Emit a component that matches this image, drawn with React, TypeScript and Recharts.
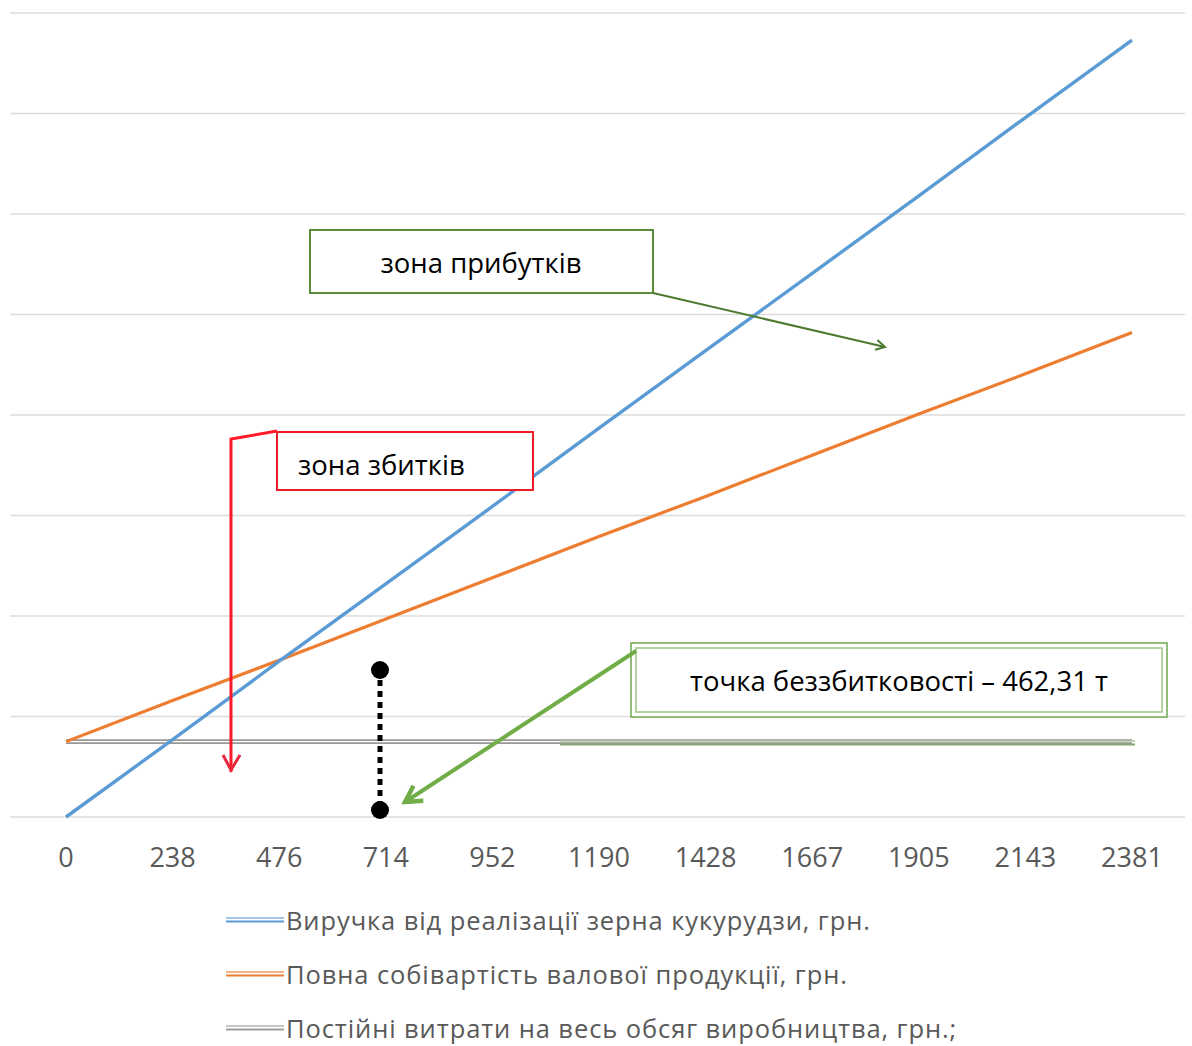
import React from 'react';
import { LineChart, Line, XAxis, YAxis, CartesianGrid, Legend } from 'recharts';

const categories = ['0', '238', '476', '714', '952', '1190', '1428', '1667', '1905', '2143', '2381'];
const revenue = [0, 0.77, 1.55, 2.32, 3.09, 3.87, 4.64, 5.41, 6.18, 6.96, 7.73];
const totalCost = [0.75, 1.16, 1.56, 1.97, 2.38, 2.79, 3.19, 3.6, 4.01, 4.41, 4.82];
const fixedCost = [0.75, 0.75, 0.75, 0.75, 0.75, 0.75, 0.75, 0.75, 0.75, 0.75, 0.75];
const yTicks = [0, 1, 2, 3, 4, 5, 6, 7, 8];

const seriesNames = [
  'Виручка від реалізації зерна кукурудзи, грн.',
  'Повна собівартість валової продукції, грн.',
  'Постійні витрати на весь обсяг виробництва, грн.;',
];
const seriesColors = ['#5b9bd5', '#ed7d31', '#a09d9a'];

const data = categories.map((c, i) => ({
  x: c,
  revenue: revenue[i],
  totalCost: totalCost[i],
  fixedCost: fixedCost[i],
}));

const FONT = '"Open Sans", "Noto Sans", sans-serif';

const renderLegend = () => (
  <div style={{ paddingLeft: 226, fontFamily: FONT }}>
    {seriesNames.map((n, i) => (
      <div key={n} style={{ height: 54, display: 'flex', alignItems: 'center' }}>
        <svg width={60} height={10} style={{ display: 'block' }}>
          <line x1={0} x2={58} y1={3} y2={3} stroke={seriesColors[i]} strokeWidth={1.5} opacity={0.75} />
          <line x1={0} x2={58} y1={6.5} y2={6.5} stroke={seriesColors[i]} strokeWidth={1.8} />
        </svg>
        <span style={{ fontSize: 25.5, lineHeight: '28px', letterSpacing: 0.9, color: '#595959', whiteSpace: 'nowrap' }}>{n}</span>
      </div>
    ))}
  </div>
);

export default function App() {
  return (
    <div style={{ position: 'absolute', left: 0, top: 0, width: 1192, height: 1046, background: '#fff' }}>
      <LineChart
        width={1192}
        height={1046}
        data={data}
        margin={{ top: 13, right: 7, bottom: 0, left: 10 }}
      >
        <CartesianGrid vertical={false} stroke="#dcdcdc" strokeWidth={1.6} />
        <XAxis
          dataKey="x"
          height={76}
          padding={{ left: 56, right: 53 }}
          axisLine={false}
          tickLine={false}
          tickSize={0}
          tickMargin={31}
          interval={0}
          tick={{ fill: '#595959', fontSize: 27, fontFamily: FONT }}
        />
        <YAxis hide domain={[0, 8]} ticks={yTicks} type="number" />
        <Legend
          verticalAlign="bottom"
          content={renderLegend}
          wrapperStyle={{ left: 0, bottom: 0, width: 1192, height: 153 }}
        />
        <Line dataKey="fixedCost" name={seriesNames[2]} stroke="#9a9794" strokeWidth={4.6} dot={false} isAnimationActive={false} />
        <Line dataKey="fixedCost" name="fixed-inner" legendType="none" stroke="#ffffff" strokeWidth={1.4} dot={false} isAnimationActive={false} />
        <Line dataKey="totalCost" name={seriesNames[1]} stroke={seriesColors[1]} strokeWidth={3.2} dot={false} isAnimationActive={false} />
        <Line dataKey="revenue" name={seriesNames[0]} stroke={seriesColors[0]} strokeWidth={3.4} dot={false} isAnimationActive={false} />
      </LineChart>
      <svg
        width={1192}
        height={1046}
        style={{ position: 'absolute', left: 0, top: 0, pointerEvents: 'none' }}
      >
        <defs>
          <marker id="openDark" markerWidth="12" markerHeight="12" refX="10" refY="6" orient="auto" markerUnits="userSpaceOnUse" viewBox="0 0 12 12">
            <path d="M1,1 L10,6 L1,11" fill="none" stroke="#4f7a32" strokeWidth={2} />
          </marker>
          <marker id="greenHead" markerWidth="24" markerHeight="24" refX="20" refY="12" orient="auto" markerUnits="userSpaceOnUse" viewBox="0 0 24 24">
            <path d="M4,3 L20,12 L4,21" fill="none" stroke="#70ad47" strokeWidth={4.5} />
          </marker>
        </defs>

        {/* green double line over fixed cost line */}
        <line x1={560} x2={1135} y1={741} y2={741} stroke="#a9c99a" strokeWidth={1.6} />
        <line x1={560} x2={1135} y1={744.5} y2={744.5} stroke="#86a873" strokeWidth={1.8} />

        {/* profit zone box */}
        <rect x={310} y={230} width={343} height={63} fill="#fff" stroke="#5b8c3a" strokeWidth={2} />
        <text x={481} y={262} textAnchor="middle" dominantBaseline="central" fontFamily={FONT} fontSize={27.5} fill="#000">
          зона прибутків
        </text>
        <line x1={653} y1={293} x2={885} y2={347} stroke="#4f7a32" strokeWidth={2} markerEnd="url(#openDark)" />

        {/* loss zone box */}
        <rect x={277} y={432} width={256} height={58} fill="#fff" stroke="#ee1c25" strokeWidth={2} />
        <text x={298} y={464} dominantBaseline="central" fontFamily={FONT} fontSize={27.5} fill="#000">
          зона збитків
        </text>
        <polyline points="277,431 231,439 231,772" fill="none" stroke="#ff1a2a" strokeWidth={3} />
        <polyline points="223,755 231,770 240,755" fill="none" stroke="#e8283c" strokeWidth={3} />

        {/* dotted marker */}
        <line x1={380} x2={380} y1={680} y2={803} stroke="#000" strokeWidth={5} strokeDasharray="6 5" />
        <circle cx={380} cy={670} r={9} fill="#000" />
        <circle cx={380} cy={810} r={9} fill="#000" />

        {/* break-even box */}
        <rect x={631} y={643} width={536} height={74} fill="#fff" stroke="#7aab55" strokeWidth={1.6} />
        <rect x={636} y={648} width={526} height={64} fill="none" stroke="#a3c98a" strokeWidth={1.6} />
        <text x={899} y={680} textAnchor="middle" dominantBaseline="central" fontFamily={FONT} fontSize={27.5} fill="#000">
          точка беззбитковості – 462,31 т
        </text>
        <line x1={636} y1={651} x2={405} y2={802} stroke="#70ad47" strokeWidth={4} markerEnd="url(#greenHead)" />
      </svg>
    </div>
  );
}
